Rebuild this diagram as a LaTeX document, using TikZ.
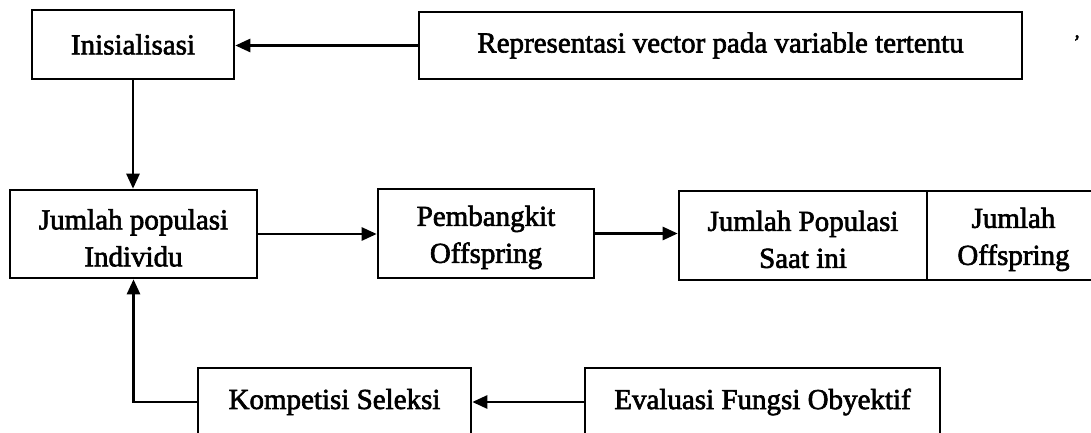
\documentclass[tikz,border=0pt]{standalone}
\usepackage{fontspec}
\setmainfont{Liberation Serif}[BoldFont=Liberation Serif, BoldFeatures={FakeBold=2.2}]
\usetikzlibrary{arrows.meta}
% extra height on the first line of two-line labels
\newcommand\firstlinegap{\rule{0pt}{28pt}}
\begin{document}
\begin{tikzpicture}[x=1pt,y=-1pt,
  box/.style={draw, line width=2.6pt, inner sep=0pt, align=center,
    font=\fontsize{29}{37}\selectfont\bfseries},
  arr/.style={line width=2.6pt, -{Triangle[length=15pt,width=13pt]}}]
\useasboundingbox (0,0) rectangle (1091,433);
% top row
\node[box, minimum width=202pt, minimum height=69pt] (init) at (133,44.5) {Inisialisasi};
\node[box, minimum width=603pt, minimum height=67pt] (rep) at (720.5,45.5) {Representasi vector pada variable tertentu};
\node[font=\fontsize{20}{20}\selectfont\bfseries] (tick) at (1077,42) {'};
% middle row
\node[box, minimum width=247pt, minimum height=88pt] (pop) at (133.5,234) {\firstlinegap Jumlah populasi\\Individu};
\node[box, minimum width=216pt, minimum height=89pt] (gen) at (486,233.5) {\firstlinegap Pembangkit\\Offspring};
\node[box, minimum width=248pt, minimum height=89pt] (cur) at (803,235.5) {\firstlinegap Jumlah Populasi\\Saat ini};
\node[box, minimum width=173pt, minimum height=89pt] (off) at (1013.5,235.5) {\firstlinegap Jumlah\\Offspring};
% bottom row (boxes run past the lower edge)
\node[box, minimum width=273pt, minimum height=68pt] (sel) at (334.5,402) {Kompetisi Seleksi};
\node[box, minimum width=355pt, minimum height=68pt] (eval) at (762.5,402) {Evaluasi Fungsi Obyektif};
% connectors
\draw[arr] (rep.west) -- (init.east |- rep.west);
\draw[arr] (init.south) -- (init.south |- pop.north);
\draw[arr] (pop.east) -- (gen.west |- pop.east);
\draw[arr] (gen.east) -- (cur.west |- gen.east);
\draw[arr] (eval.west) -- (sel.east);
\draw[arr] (sel.west) -| (pop.south);
\end{tikzpicture}
\end{document}
